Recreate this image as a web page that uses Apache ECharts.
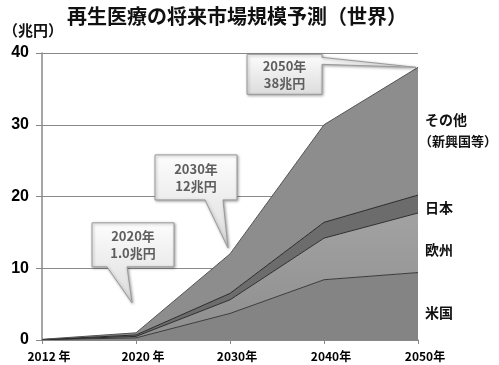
<!DOCTYPE html>
<html><head><meta charset="utf-8">
<script src="https://cdn.jsdelivr.net/npm/echarts@6/dist/echarts.min.js"></script>
<style>html,body{margin:0;padding:0;background:#fff}#c{width:499px;height:365px}</style>
</head><body><div id="c"></div>
<script>
const years = ['2012 年', '2020 年', '2030年', '2040年', '2050年'];
const usa = [0.05, 0.3, 3.7, 8.4, 9.4];
const europe = [0, 0.2, 1.9, 5.8, 8.3];
const japan = [0, 0.2, 0.9, 2.2, 2.5];
const other = [0.05, 0.3, 5.5, 13.6, 17.8];
const yTicks = [0, 10, 20, 30, 40];
const seriesNames = ['米国', '欧州', '日本', 'その他（新興国等）'];
const callouts = [
  { idx: 1, text: ['2020年', '1.0兆円'] },
  { idx: 2, text: ['2030年', '12兆円'] },
  { idx: 4, text: ['2050年', '38兆円'] }
];
const total = years.map((_, i) => usa[i] + europe[i] + japan[i] + other[i]);

const FONT = '"Noto Sans CJK JP", "Noto Sans", sans-serif';
const chart = echarts.init(document.getElementById('c'), null, { renderer: 'canvas' });

function area(name, data, fill, line) {
  return {
    name, type: 'line', stack: 'all', data, symbol: 'none', smooth: false,
    lineStyle: { color: line, width: 1 },
    areaStyle: { color: fill, opacity: 1 },
    emphasis: { disabled: true }
  };
}

chart.setOption({
  animation: false,
  textStyle: { fontFamily: FONT },
  title: {
    text: '再生医療の将来市場規模予測（世界）',
    left: 62, top: 1,
    textStyle: { fontSize: 20, fontWeight: 'bold', color: '#111', fontFamily: FONT }
  },
  grid: { left: 42, right: 81, top: 53, bottom: 25, containLabel: false },
  xAxis: {
    type: 'category', data: years, boundaryGap: false,
    axisLine: { lineStyle: { color: '#888', width: 1.5 } },
    axisTick: { show: true, alignWithLabel: true, length: 4, lineStyle: { color: '#888' } },
    axisLabel: { color: '#000', fontSize: 12, fontWeight: 'bold', margin: 10, padding: [0, 0, 0, 14], fontFamily: FONT },
    splitLine: { show: false }
  },
  yAxis: {
    type: 'value', min: 0, max: 40, interval: 10,
    axisLine: { show: true, lineStyle: { color: '#888', width: 1.5 } },
    axisTick: { show: true, length: 6, lineStyle: { color: '#888' } },
    axisLabel: { color: '#000', fontSize: 16, fontWeight: 'bold', margin: 13, fontFamily: 'Liberation Sans, Arial, sans-serif',
      formatter: v => yTicks.includes(v) ? String(v) : '' },
    splitLine: { show: true, lineStyle: { color: '#8a8a8a', width: 1.2 } }
  },
  series: [
    area(seriesNames[0], usa, '#848484', '#3a3a3a'),
    area(seriesNames[1], europe, new echarts.graphic.LinearGradient(0, 0, 0, 1, [{ offset: 0, color: '#a2a2a2' }, { offset: 1, color: '#8e8e8e' }]), '#2e2e2e'),
    area(seriesNames[2], japan, '#6c6c6c', '#2a2a2a'),
    area(seriesNames[3], other, '#8d8d8d', '#555555')
  ]
});

// callouts anchored on total values
const shapes = [
  { box: [-44, -110, 38, -66], tail: [[-29, -66], [-4, -30], [-9, -66]] },
  { box: [-75, -99, 7, -54], tail: [[-25, -54], [-2, -6], [-7, -54]] },
  { box: [-171, -13, -96, 27], tail: [[-96, -10], [-2, 0], [-96, -3]] }
];
const graphics = [];
callouts.forEach((c, k) => {
  const p = chart.convertToPixel({ gridIndex: 0 }, [c.idx, total[c.idx]]);
  const s = shapes[k];
  const [x1, y1, x2, y2] = s.box.map((v, i) => v + (i % 2 === 0 ? p[0] : p[1]));
  const t = s.tail.map(q => [q[0] + p[0], q[1] + p[1]]);
  let pts;
  if (k < 2) {
    pts = [[x1, y1], [x2, y1], [x2, y2], t[2], t[1], t[0], [x1, y2]];
  } else {
    pts = [[x1, y1], [x2, y1], t[0], t[1], t[2], [x2, y2], [x1, y2]];
  }
  graphics.push({
    type: 'polygon', shape: { points: pts }, z: 100,
    style: {
      fill: new echarts.graphic.LinearGradient(0, 0, 0, 1, [{ offset: 0, color: '#fdfdfd' }, { offset: 1, color: '#dcdcdc' }]),
      stroke: '#9a9a9a', lineWidth: 1,
      shadowBlur: 3, shadowColor: 'rgba(0,0,0,0.35)', shadowOffsetX: 1, shadowOffsetY: 1
    }
  });
  graphics.push({
    type: 'text', z: 101,
    style: {
      text: c.text.join('\n'), x: (x1 + x2) / 2, y: (y1 + y2) / 2,
      align: 'center', verticalAlign: 'middle', lineHeight: 17,
      font: 'bold 13px ' + FONT, fill: '#5e5e5e'
    }
  });
});

// unit and right-side labels
graphics.push({ type: 'text', left: 3, top: 23, style: { text: '（兆円）', font: 'bold 15px ' + FONT, fill: '#111' } });
const rl = [
  { t: 'その他', y: 120, f: 14 },
  { t: '（新興国等）', y: 141, f: 13 },
  { t: '日本', y: 208, f: 14 },
  { t: '欧州', y: 250, f: 14 },
  { t: '米国', y: 313, f: 14 }
];
rl.forEach(r => graphics.push({
  type: 'text', z: 50,
  style: { text: r.t, x: r.t.startsWith('（') ? 419 : 425, y: r.y, verticalAlign: 'middle', font: 'bold ' + r.f + 'px ' + FONT, fill: '#111' }
}));
chart.setOption({ graphic: graphics });
</script></body></html>
